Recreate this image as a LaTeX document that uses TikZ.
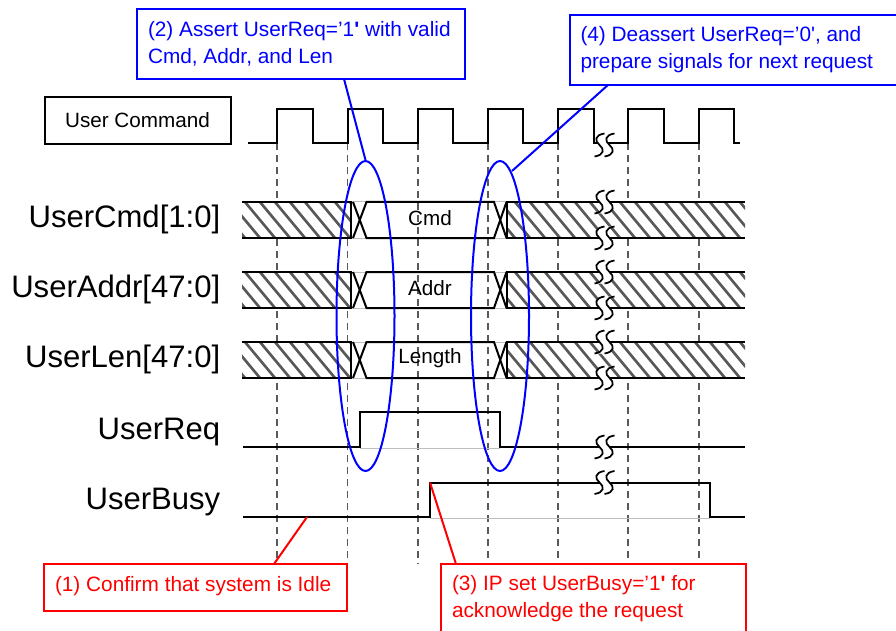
\documentclass[tikz,border=0pt]{standalone}
\usepackage{fontspec}
\setmainfont{Liberation Sans}
\usetikzlibrary{shapes.geometric}
\definecolor{noteblue}{RGB}{0,0,255}
\definecolor{notered}{RGB}{255,0,0}
\tikzset{
    x=0.75pt,y=-0.75pt,
    sig/.style={draw=black,line width=1.5pt,line join=miter},
    thin gray/.style={draw=black!25,line width=0.75pt},
    grid/.style={draw=black!65,line width=1.2pt,dash pattern=on 5.5pt off 3.5pt},
    hatchline/.style={draw=black!65,line width=2pt},
    siglabel/.style={anchor=base east,inner sep=0pt,font=\fontsize{23.3}{27}\selectfont},
    smalltxt/.style={inner sep=0pt,font=\fontsize{15.5}{18.75}\selectfont},
    note/.style={draw=#1,text=#1,line width=1.5pt,anchor=north west,align=flush left,outer sep=0pt,inner ysep=0pt,inner xsep=8.25pt,minimum height=52.5pt,font=\fontsize{15.6}{18.75}\selectfont,execute at begin node={\vspace*{1.5pt}}},
    hoop/.style={draw=noteblue,line width=1.5pt,ellipse,inner sep=0pt,minimum width=43.5pt,minimum height=232.5pt},
    pics/gapmark/.style={code={
        \fill[white] (0,-11.5) .. controls (-10,-10) and (-10,-4) .. (-5,0) .. controls (0,4) and (0,10) .. (-10,11.5) -- (0,11.5) .. controls (10,10) and (10,4) .. (5,0) .. controls (0,-4) and (0,-10) .. (10,-11.5) -- cycle;
        \draw[black,line width=1.3pt] (0,-11.5) .. controls (-10,-10) and (-10,-4) .. (-5,0) .. controls (0,4) and (0,10) .. (-10,11.5);
        \draw[black,line width=1.3pt] (10,-11.5) .. controls (0,-10) and (0,-4) .. (5,0) .. controls (10,4) and (10,10) .. (0,11.5);
    }}
}
\begin{document}
\begin{tikzpicture}
    \useasboundingbox (0,0) rectangle (896,631);
    \clip (0,0) rectangle (896,631);

    % grid of the clock edges
    \foreach \xgrid in {277,347.5,418,488,558,628,699}
        \draw[grid] (\xgrid,143) -- (\xgrid,564);

    % clock
    \node (UserCommand)[draw,line width=1.5pt,anchor=north west,outer sep=0pt,minimum width=139.5pt,minimum height=35.25pt,inner sep=0pt,font=\fontsize{15.5}{18.75}\selectfont] at (44.5,97) {User Command};
    \draw[sig] (248,143) -- (277,143) -- (277,109) -- (313,109) -- (313,143) -- (347.5,143) -- (347.5,109) -- (383,109) -- (383,143)
        -- (418,143) -- (418,109) -- (453,109) -- (453,143) -- (488,143) -- (488,109) -- (523,109) -- (523,143)
        -- (558,143) -- (558,109) -- (593.5,109) -- (593.5,143) -- (628,143) -- (628,109) -- (663.5,109) -- (663.5,143)
        -- (698.5,143) -- (698.5,109) -- (733.5,109) -- (733.5,143) -- (740,143);
    \pic at (604.5,145) {gapmark};

    % buses
    \foreach \ytop/\ybot/\ytxt/\txt/\lbl in {202/238/218/Cmd/UserCmd[1:0],272/308/288/Addr/UserAddr[47:0],342/378/358.5/Length/UserLen[47:0]} {
        \begin{scope}
            \clip (242,\ytop) rectangle (350.5,\ybot);
            \fill[white] (242,\ytop) rectangle (350.5,\ybot);
            \foreach \xh in {200,215,...,350}
                \draw[hatchline] (\xh,\ytop) -- ++(30,36);
        \end{scope}
        \begin{scope}
            \clip (506.5,\ytop) rectangle (745,\ybot);
            \fill[white] (506.5,\ytop) rectangle (745,\ybot);
            \foreach \xh in {470,485,...,745}
                \draw[hatchline] (\xh,\ytop) -- ++(30,36);
        \end{scope}
        \draw[thin gray] (350.5,\ytop) -- (367,\ytop) (350.5,\ybot) -- (367,\ybot);
        \draw[thin gray] (493,\ytop) -- (507,\ytop) (493,\ybot) -- (507,\ybot);
        \draw[sig] (242,\ytop) -- (350.5,\ytop) -- (350.5,\ybot) -- (242,\ybot);
        \draw[sig] (745,\ytop) -- (506.5,\ytop) -- (506.5,\ybot) -- (745,\ybot);
        \draw[sig] (353,\ytop) -- (366.5,\ybot) -- (494,\ybot) -- (506.5,\ytop);
        \draw[sig] (353,\ybot) -- (366.5,\ytop) -- (494,\ytop) -- (506.5,\ybot);
        \node (bus\txt)[smalltxt] at (430,\ytxt) {\txt};
        \node (lbl\txt)[siglabel] at (220.5,\ytop+25.5) {\lbl};
        \pic at (604.5,\ytop) {gapmark};
        \pic at (604.5,\ybot) {gapmark};
    }

    % UserReq
    \node (lblReq)[siglabel] at (220.5,439) {UserReq};
    \draw[thin gray] (359.5,448) -- (500,448);
    \draw[sig] (243,447) -- (359.5,447) -- (359.5,412) -- (499.5,412) -- (499.5,447) -- (745,447);
    \pic at (604.5,447) {gapmark};

    % UserBusy
    \node (lblBusy)[siglabel] at (220.5,509) {UserBusy};
    \draw[thin gray] (430,518) -- (710,518);
    \draw[sig] (243,517) -- (429.5,517) -- (429.5,482.5) -- (710,482.5) -- (710,517) -- (745,517);
    \pic at (604.5,482.5) {gapmark};

    % blue notes
    \node (hoopUp)[hoop] at (365.5,316) {};
    \node (hoopDown)[hoop] at (500,316) {};
    \node (noteTwo)[note=noteblue,text width=229.5pt] at (137,9) {(2) Assert UserReq=’1\textbf{\textquotesingle} with valid\\Cmd, Addr, and Len};
    \node (noteFour)[note=noteblue,text width=245pt] at (569.5,15) {(4) Deassert UserReq=’0\textquotesingle, and\\prepare signals for next request};
    \coordinate (tailTwo) at (344,79);
    \coordinate (tailFour) at (608,85);
    \coordinate (hoopDownTop) at (512,171);
    \draw[noteblue,line width=1.5pt] (tailTwo) -- (hoopUp.north);
    \draw[noteblue,line width=1.5pt] (tailFour) -- (hoopDownTop);

    % red notes
    \node (noteOne)[note=notered,text width=210.75pt,minimum height=35.25pt] at (44,564) {(1) Confirm that system is Idle};
    \node (noteThree)[note=notered,text width=212pt] at (441,564) {(3) IP set UserBusy=’1\textbf{\textquotesingle} for\\acknowledge the request};
    \coordinate (idlePoint) at (307,517);
    \coordinate (tailOne) at (274,564);
    \coordinate (busyPoint) at (430,482.5);
    \coordinate (tailThree) at (456,564);
    \draw[notered,line width=1.5pt] (tailOne) -- (idlePoint);
    \draw[notered,line width=1.5pt] (tailThree) -- (busyPoint);
\end{tikzpicture}
\end{document}
